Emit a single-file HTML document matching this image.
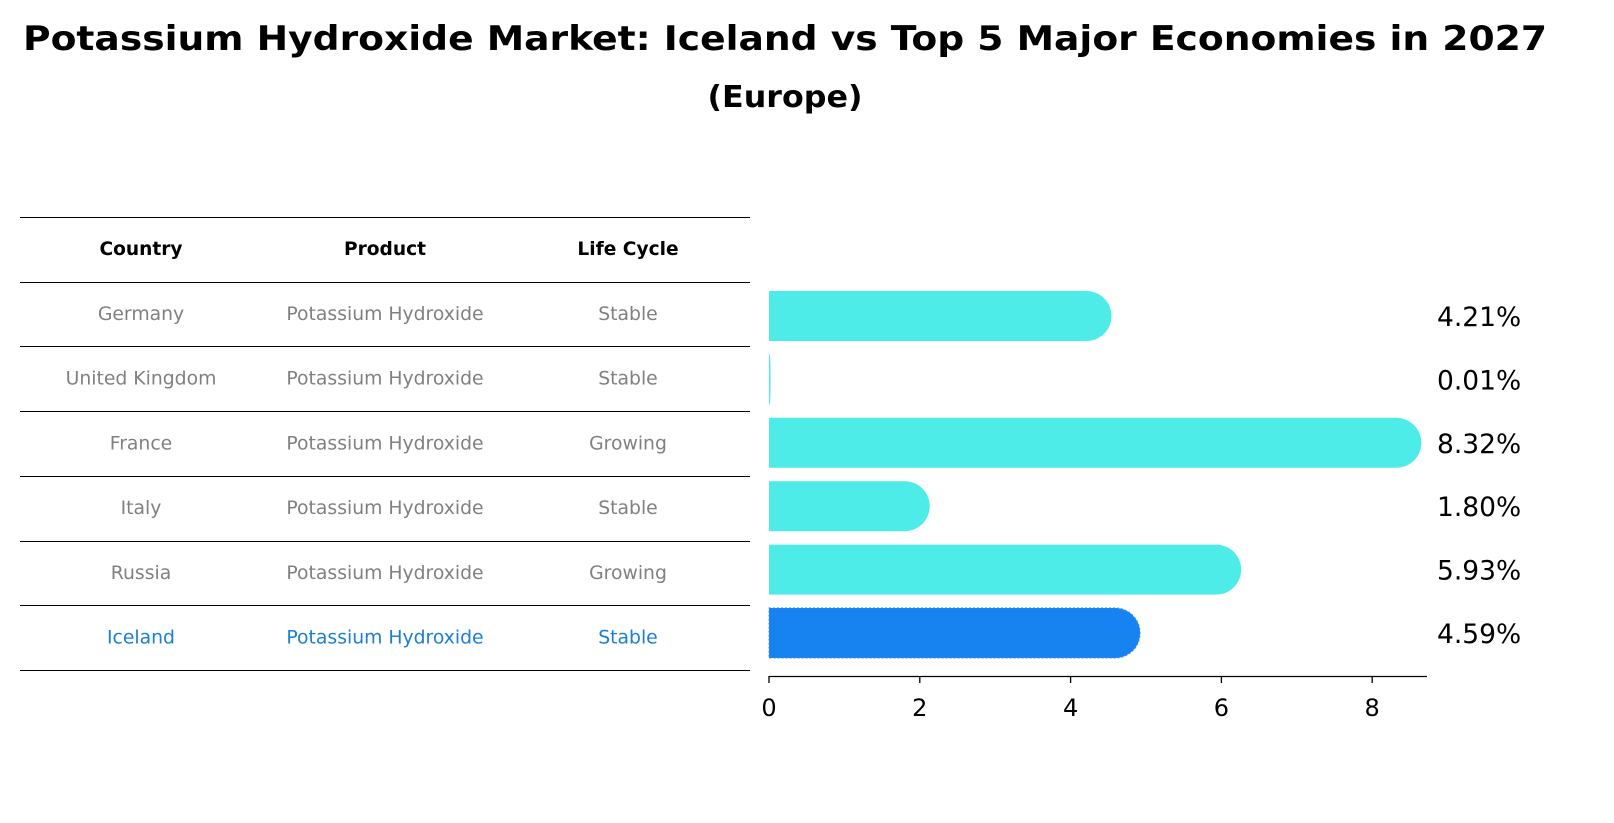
<!DOCTYPE html>
<html><head><meta charset="utf-8"><style>
body{margin:0;background:#fff;font-family:"Liberation Sans","DejaVu Sans",sans-serif}
#wrap{position:relative;width:1614px;height:823px;overflow:hidden}
</style></head><body>
<div id="wrap">
<svg id="svg" width="1614" height="823" xmlns="http://www.w3.org/2000/svg">
<text x="785" y="50" text-anchor="middle" font-size="34" font-weight="bold" textLength="1524" lengthAdjust="spacingAndGlyphs" font-family="DejaVu Sans,sans-serif">Potassium Hydroxide Market: Iceland vs Top 5 Major Economies in 2027</text>
<text x="785" y="107" text-anchor="middle" font-size="30" font-weight="bold" textLength="155" lengthAdjust="spacingAndGlyphs" font-family="DejaVu Sans,sans-serif">(Europe)</text>
<g id="table"></g>
<g id="bars"></g>
</svg>
</div>
<script>
const countries=["Germany","United Kingdom","France","Italy","Russia","Iceland"];
const products=["Potassium Hydroxide","Potassium Hydroxide","Potassium Hydroxide","Potassium Hydroxide","Potassium Hydroxide","Potassium Hydroxide"];
const lifeCycles=["Stable","Stable","Growing","Stable","Growing","Stable"];
const values=[4.21,0.01,8.32,1.80,5.93,4.59];
const ticks=[0,2,4,6,8];
const NS="http://www.w3.org/2000/svg";
const tbl=document.getElementById('table');
const bars=document.getElementById('bars');
function mk(tag,attrs,parent,text){const e=document.createElementNS(NS,tag);for(const k in attrs)e.setAttribute(k,attrs[k]);if(text!==undefined)e.textContent=text;parent.appendChild(e);return e;}
const x0=769,unit=75.4;
const xs=v=>x0+v*unit;
const rowY=i=>316+i*63.4;
const lineYs=[217,282,346,411,476,541,605,670];
lineYs.forEach(y=>{const l=mk('line',{x1:20,x2:750,y1:y+0.5,y2:y+0.5,stroke:'#000','stroke-width':1},tbl);

});
const colX=[141,385,628];
["Country","Product","Life Cycle"].forEach((h,j)=>{const t=mk('text',{x:colX[j],y:255,'text-anchor':'middle','font-size':18.6,'font-weight':'bold','font-family':'DejaVu Sans,sans-serif'},tbl,h);

});
countries.forEach((c,i)=>{const y=320+i*64.7;const col=i===countries.length-1?'#1a7fd4':'#808080';
[c,products[i],lifeCycles[i]].forEach((v,j)=>{const t=mk('text',{x:colX[j],y:y,'text-anchor':'middle','font-size':18.8,fill:col,'font-family':'DejaVu Sans,sans-serif'},tbl,v);

});});
const h=50;
values.forEach((v,i)=>{const yc=rowY(i);const isI=i===values.length-1;const col=isI?'#1783f0':'#4dece8';
const w=xs(v)-x0;const r=Math.min(25,Math.max(w,0.8));
const p=mk('path',{d:`M${x0},${yc-h/2} h${w} a${r},${h/2} 0 0 1 0,${h} h${-w} Z`,fill:col},bars);
if(isI){p.setAttribute('stroke','#3a8ee8');p.setAttribute('stroke-dasharray','2,2');}


const t=mk('text',{x:1437,y:yc+10,'font-size':26.5,'font-family':'DejaVu Sans,sans-serif'},bars,v.toFixed(2)+'%');

});
const ax=mk('line',{x1:x0,x2:1427,y1:676.5,y2:676.5,stroke:'#000','stroke-width':1.3},bars);


ticks.forEach(t=>{const tl=mk('line',{x1:xs(t),x2:xs(t),y1:676,y2:683,stroke:'#000','stroke-width':1.3},bars);


const tx=mk('text',{x:xs(t),y:716,'text-anchor':'middle','font-size':24,'font-family':'DejaVu Sans,sans-serif'},bars,String(t));

});
</script>
</body></html>
